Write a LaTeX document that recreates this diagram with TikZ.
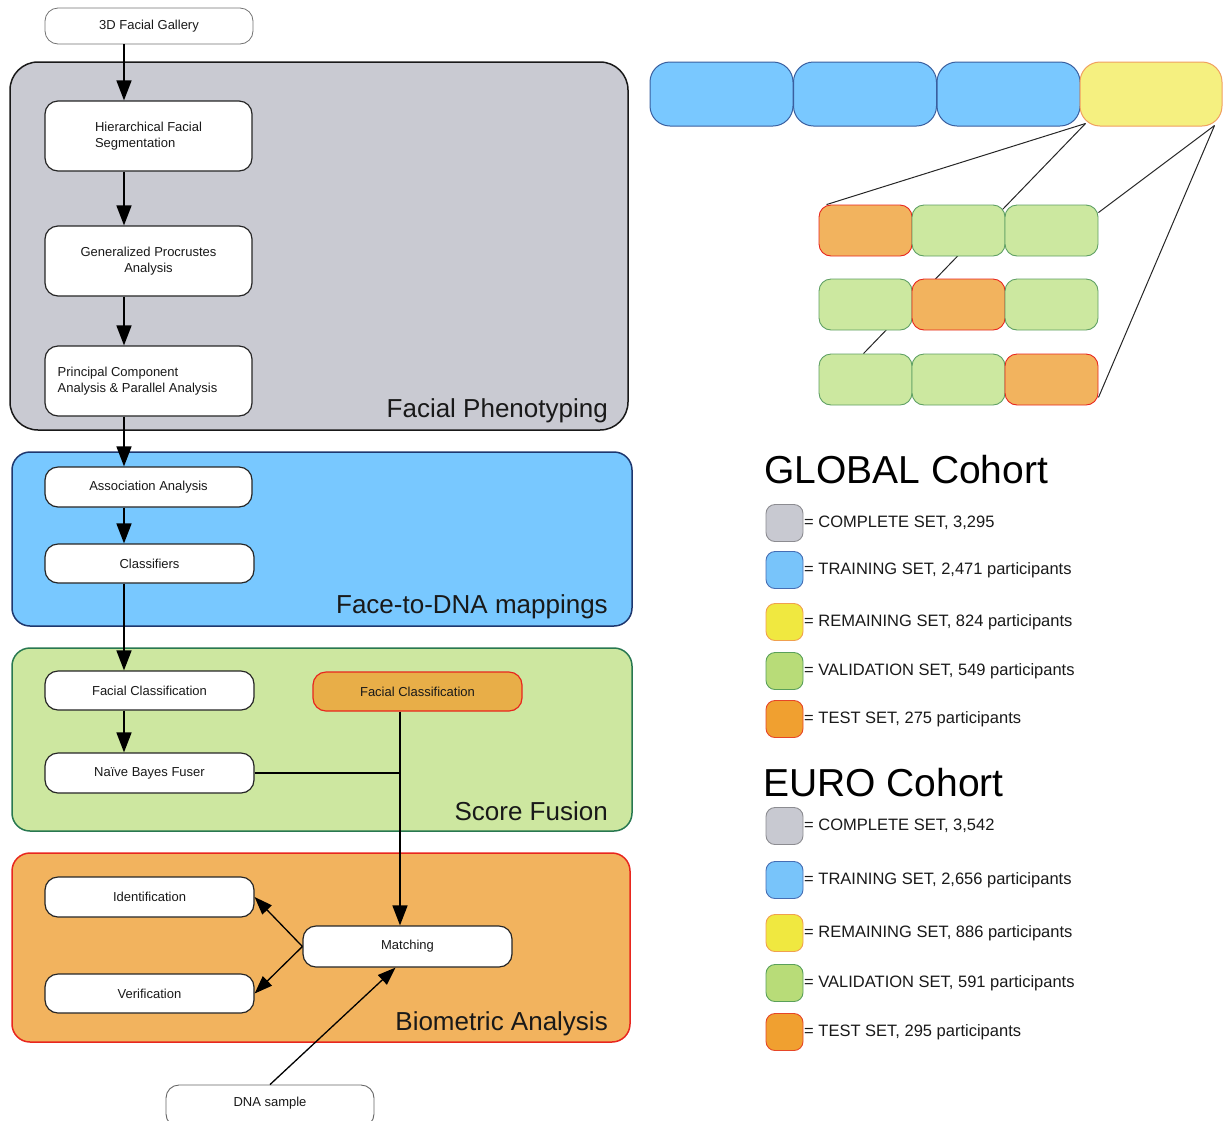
\documentclass[tikz,border=0pt]{standalone}
\usepackage{fontspec}
\setmainfont{Liberation Sans}
\usetikzlibrary{arrows.meta,calc}
\pgfdeclarelayer{background}
\pgfsetlayers{background,main}
\definecolor{pgrey}{RGB}{201,202,210}
\definecolor{pblue}{RGB}{120,200,255}
\definecolor{pbluebd}{RGB}{30,55,110}
\definecolor{pgreen}{RGB}{205,231,160}
\definecolor{pgreenbd}{RGB}{40,120,80}
\definecolor{porange}{RGB}{242,179,94}
\definecolor{pred}{RGB}{232,38,30}
\definecolor{fcorange}{RGB}{232,174,72}
\definecolor{sgreen}{RGB}{204,232,160}
\definecolor{sgreenbd}{RGB}{95,160,100}
\definecolor{tblue}{RGB}{121,200,255}
\definecolor{tbluebd}{RGB}{58,95,159}
\definecolor{tyellow}{RGB}{245,240,128}
\definecolor{tyellowbd}{RGB}{240,160,96}
\definecolor{lgrey}{RGB}{200,201,209}
\definecolor{lgreybd}{RGB}{140,140,145}
\definecolor{lblue}{RGB}{120,196,250}
\definecolor{lbluebd}{RGB}{70,110,180}
\definecolor{lyellow}{RGB}{240,232,64}
\definecolor{lyellowbd}{RGB}{240,160,80}
\definecolor{lgreen}{RGB}{184,220,120}
\definecolor{lgreenbd}{RGB}{90,160,90}
\definecolor{lorange}{RGB}{240,160,48}
\definecolor{lorangebd}{RGB}{230,70,40}
\definecolor{txt}{RGB}{25,25,25}
\tikzset{
  box/.style={draw=black!85, line width=1.2pt, fill=white, rounded corners=13pt,
    font=\fontsize{13}{16}\selectfont, text=txt, align=center, inner sep=2pt},
  panel/.style={line width=1.5pt, rounded corners=22pt, inner sep=0pt},
  plabel/.style={font=\fontsize{26}{30}\selectfont, text=txt, anchor=base east, inner sep=0pt},
  arr/.style={-{Triangle[length=20pt,width=15pt]}, line width=1.6pt},
  sarr/.style={-{Triangle[length=18pt,width=13pt]}, line width=1.3pt},
  bar/.style={line width=1pt, rounded corners=20pt, minimum width=143pt, minimum height=64pt, inner sep=0pt},
  sbox/.style={line width=0.9pt, rounded corners=12pt, minimum width=93pt, minimum height=51pt, inner sep=0pt},
  sw/.style={line width=0.9pt, rounded corners=9pt, minimum width=37pt, minimum height=37pt, inner sep=0pt},
  ltext/.style={font=\fontsize{16.5}{19}\selectfont, text=txt, anchor=west, inner sep=0pt},
  ltitle/.style={font=\fontsize{39}{44}\selectfont, text=black, anchor=base west, inner sep=0pt},
  splitline/.style={line width=1pt, black!85},
}
\begin{document}
\begin{tikzpicture}[x=1pt,y=-1pt]
\useasboundingbox (0,0) rectangle (1225,1120);
\clip (0,0) rectangle (1225,1120);
% panels
\node[panel, draw=black!90, fill=pgrey, rounded corners=28pt, minimum width=618pt, minimum height=368pt] (fp) at (319,246) {};
\node[panel, draw=pbluebd, fill=pblue, rounded corners=18pt, minimum width=620pt, minimum height=174pt] (fd) at (322,539) {};
\node[panel, draw=pgreenbd, fill=pgreen, rounded corners=18pt, minimum width=620pt, minimum height=183pt] (sf) at (322,739.5) {};
\node[panel, draw=pred, fill=porange, rounded corners=18pt, minimum width=618pt, minimum height=189pt] (ba) at (321,947.5) {};
\node[plabel] (fpl) at (608,417) {Facial Phenotyping};
\node[plabel] (fdl) at (608,613) {Face-to-DNA mappings};
\node[plabel] (sfl) at (608,820) {Score Fusion};
\node[plabel] (bal) at (608,1030) {Biometric Analysis};
% boxes
\node[box, draw=black!55, line width=0.8pt, minimum width=208pt, minimum height=36pt] (gal) at (149,26) {3D Facial Gallery};
\node[box, minimum width=207pt, minimum height=70pt, align=left] (hfs) at (148.5,136) {Hierarchical Facial\\Segmentation};
\node[box, minimum width=207pt, minimum height=70pt] (gpa) at (148.5,261) {Generalized Procrustes\\Analysis};
\node[box, minimum width=207pt, minimum height=70pt, align=left] (pca) at (148.5,381) {Principal Component\\Analysis \& Parallel Analysis\hspace*{22pt}};
\node[box, minimum width=207pt, minimum height=40pt] (aa) at (148.5,487) {Association Analysis};
\node[box, minimum width=209pt, minimum height=39pt] (cls) at (149.5,563.5) {Classifiers};
\node[box, minimum width=209pt, minimum height=39pt] (fc1) at (149.5,690.5) {Facial Classification};
\node[box, draw=pred, fill=fcorange, minimum width=209pt, minimum height=39pt] (fc2) at (417.5,691.5) {Facial Classification};
\node[box, minimum width=209pt, minimum height=40pt] (nbf) at (149.5,773) {Naïve Bayes Fuser};
\node[box, minimum width=209pt, minimum height=40pt] (idn) at (149.5,897) {Identification};
\node[box, minimum width=209pt, minimum height=39pt] (ver) at (149.5,993.5) {Verification};
\node[box, minimum width=209pt, minimum height=41pt] (mat) at (407.5,946.5) {Matching};
\node[box, draw=black!60, line width=0.9pt, minimum width=208pt, minimum height=42pt] (dna) at (270,1106) {\raisebox{8pt}{DNA sample}};
% connectors
\coordinate (col) at (124,0);
\coordinate (jx) at (400,0);
\draw[arr] (gal.south -| col) -- (hfs.north -| col);
\draw[arr] (hfs.south -| col) -- (gpa.north -| col);
\draw[arr] (gpa.south -| col) -- (pca.north -| col);
\draw[arr] (pca.south -| col) -- (aa.north -| col);
\draw[arr] (aa.south -| col) -- (cls.north -| col);
\draw[arr] (cls.south -| col) -- (fc1.north -| col);
\draw[arr] (fc1.south -| col) -- (nbf.north -| col);
\draw[line width=1.6pt] (nbf.east) -- (nbf.east -| jx);
\draw[arr] (fc2.south -| jx) -- (mat.north -| jx);
\draw[sarr] (mat.west) -- (idn.east);
\draw[sarr] (mat.west) -- (ver.east);
\draw[sarr] (dna.north) -- ([xshift=-12pt]mat.south);
% top bars
\node[bar, draw=tbluebd, fill=tblue] (t1) at (721.5,94) {};
\node[bar, draw=tbluebd, fill=tblue] (t2) at (865,94) {};
\node[bar, draw=tbluebd, fill=tblue] (t3) at (1008.5,94) {};
\node[bar, draw=tyellowbd, fill=tyellow, minimum width=142pt] (t4) at (1151,94) {};
% small boxes
\node[sbox, draw=pred, fill=porange] (s11) at (865.5,230.5) {};
\node[sbox, draw=sgreenbd, fill=sgreen] (s12) at (958.5,230.5) {};
\node[sbox, draw=sgreenbd, fill=sgreen] (s13) at (1051.5,230.5) {};
\node[sbox, draw=sgreenbd, fill=sgreen] (s21) at (865.5,304.5) {};
\node[sbox, draw=pred, fill=porange] (s22) at (958.5,304.5) {};
\node[sbox, draw=sgreenbd, fill=sgreen] (s23) at (1051.5,304.5) {};
\node[sbox, draw=sgreenbd, fill=sgreen] (s31) at (865.5,379.5) {};
\node[sbox, draw=sgreenbd, fill=sgreen] (s32) at (958.5,379.5) {};
\node[sbox, draw=pred, fill=porange] (s33) at (1051.5,379.5) {};
\begin{pgfonlayer}{background}
\draw[splitline] ([shift={(6pt,3pt)}]t4.south west) -- ([xshift=8pt]s11.north west);
\draw[splitline] ([shift={(6pt,3pt)}]t4.south west) -- ([xshift=-2pt]s31.north);
\draw[splitline] ([shift={(-8pt,1pt)}]t4.south east) -- ([yshift=-8pt]s13.north east);
\draw[splitline] ([shift={(-8pt,1pt)}]t4.south east) -- ([yshift=8pt]s33.south east);
\end{pgfonlayer}
% legend GLOBAL
\node[ltitle] (gt) at (764,483) {GLOBAL Cohort};
\node[sw, draw=lgreybd, fill=lgrey] (ga) at (784.5,523) {};
\node[ltext] (gat) at (804,523) {= COMPLETE SET, 3,295};
\node[sw, draw=lbluebd, fill=lblue] (gb) at (784.5,570) {};
\node[ltext] (gbt) at (804,570) {= TRAINING SET, 2,471 participants};
\node[sw, draw=lyellowbd, fill=lyellow] (gc) at (784.5,622) {};
\node[ltext] (gct) at (804,622) {= REMAINING SET, 824 participants};
\node[sw, draw=lgreenbd, fill=lgreen] (gd) at (784.5,671) {};
\node[ltext] (gdt) at (804,671) {= VALIDATION SET, 549 participants};
\node[sw, draw=lorangebd, fill=lorange] (ge) at (784.5,719) {};
\node[ltext] (get) at (804,719) {= TEST SET, 275 participants};
% legend EURO
\node[ltitle] (et) at (763,796) {EURO Cohort};
\node[sw, draw=lgreybd, fill=lgrey] (ea) at (784.5,826) {};
\node[ltext] (eat) at (804,826) {= COMPLETE SET, 3,542};
\node[sw, draw=lbluebd, fill=lblue] (eb) at (784.5,880) {};
\node[ltext] (ebt) at (804,880) {= TRAINING SET, 2,656 participants};
\node[sw, draw=lyellowbd, fill=lyellow] (ec) at (784.5,933) {};
\node[ltext] (ect) at (804,933) {= REMAINING SET, 886 participants};
\node[sw, draw=lgreenbd, fill=lgreen] (ed) at (784.5,983) {};
\node[ltext] (edt) at (804,983) {= VALIDATION SET, 591 participants};
\node[sw, draw=lorangebd, fill=lorange] (ee) at (784.5,1032) {};
\node[ltext] (eet) at (804,1032) {= TEST SET, 295 participants};
\end{tikzpicture}
\end{document}
